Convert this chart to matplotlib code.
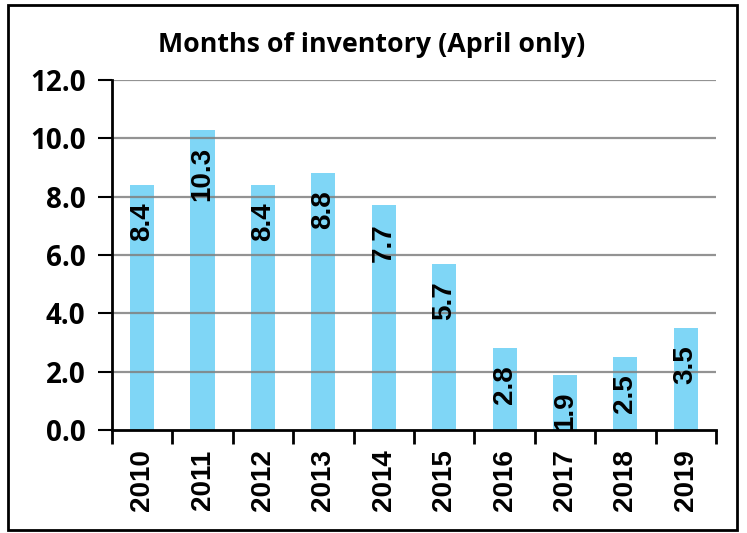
import matplotlib
matplotlib.use("Agg")
import matplotlib.pyplot as plt
import matplotlib.patches as patches
import numpy as np

years = ["2010", "2011", "2012", "2013", "2014", "2015", "2016", "2017", "2018", "2019"]
months = [8.4, 10.3, 8.4, 8.8, 7.7, 5.7, 2.8, 1.9, 2.5, 3.5]
yticks = [0, 2, 4, 6, 8, 10, 12]

fig = plt.figure(figsize=(7.47, 5.33), dpi=100)
ax = fig.add_axes([0.1499, 0.1932, 0.8086, 0.6567])

x = np.arange(len(years))
ax.bar(x, months, 0.4, color="#7fd6f6", zorder=1)

# gridlines sit on top of the bars like in the original
for y in yticks[1:]:
    ax.axhline(y, color="#808080", lw=1.6, alpha=0.85, zorder=2)

for xi, v in zip(x, months):
    ax.annotate(f"{v:.1f}", (xi, v), xytext=(0, -12.5), textcoords="offset points",
                rotation=90, ha="center", va="top", fontsize=20, fontweight="bold",
                family="Liberation Sans", zorder=3)

ax.set_xlim(-0.5, len(years) - 0.5)
ax.set_ylim(0, 12)
ax.set_yticks(yticks)
ax.set_yticklabels([f"{t:.1f}" for t in yticks], fontsize=20, fontweight="bold", family="Open Sans")
ax.set_xticks(np.arange(len(years) + 1) - 0.5)
ax.set_xticklabels([])
ax.set_xticks(x, minor=True)
ax.set_xticklabels(years, minor=True, rotation=90, fontsize=20, fontweight="bold",
                   family="Liberation Sans")
ax.tick_params(axis="x", which="major", length=10, width=2, direction="out")
ax.tick_params(axis="x", which="minor", length=0, pad=14)
ax.tick_params(axis="y", length=10, width=1.5, pad=9)

for s in ["top", "right"]:
    ax.spines[s].set_visible(False)
ax.spines["left"].set_linewidth(2)
ax.spines["bottom"].set_linewidth(2)

fig.text(0.498, 0.915, "Months of inventory (April only)", ha="center", va="center",
         fontsize=19.3, fontweight="bold", family="Open Sans")

fig.patches.append(patches.Rectangle((0.0107, 0.0056), 0.976, 0.985, transform=fig.transFigure,
                                     fill=False, edgecolor="black", lw=2))

fig.savefig("out.png", dpi=100)
